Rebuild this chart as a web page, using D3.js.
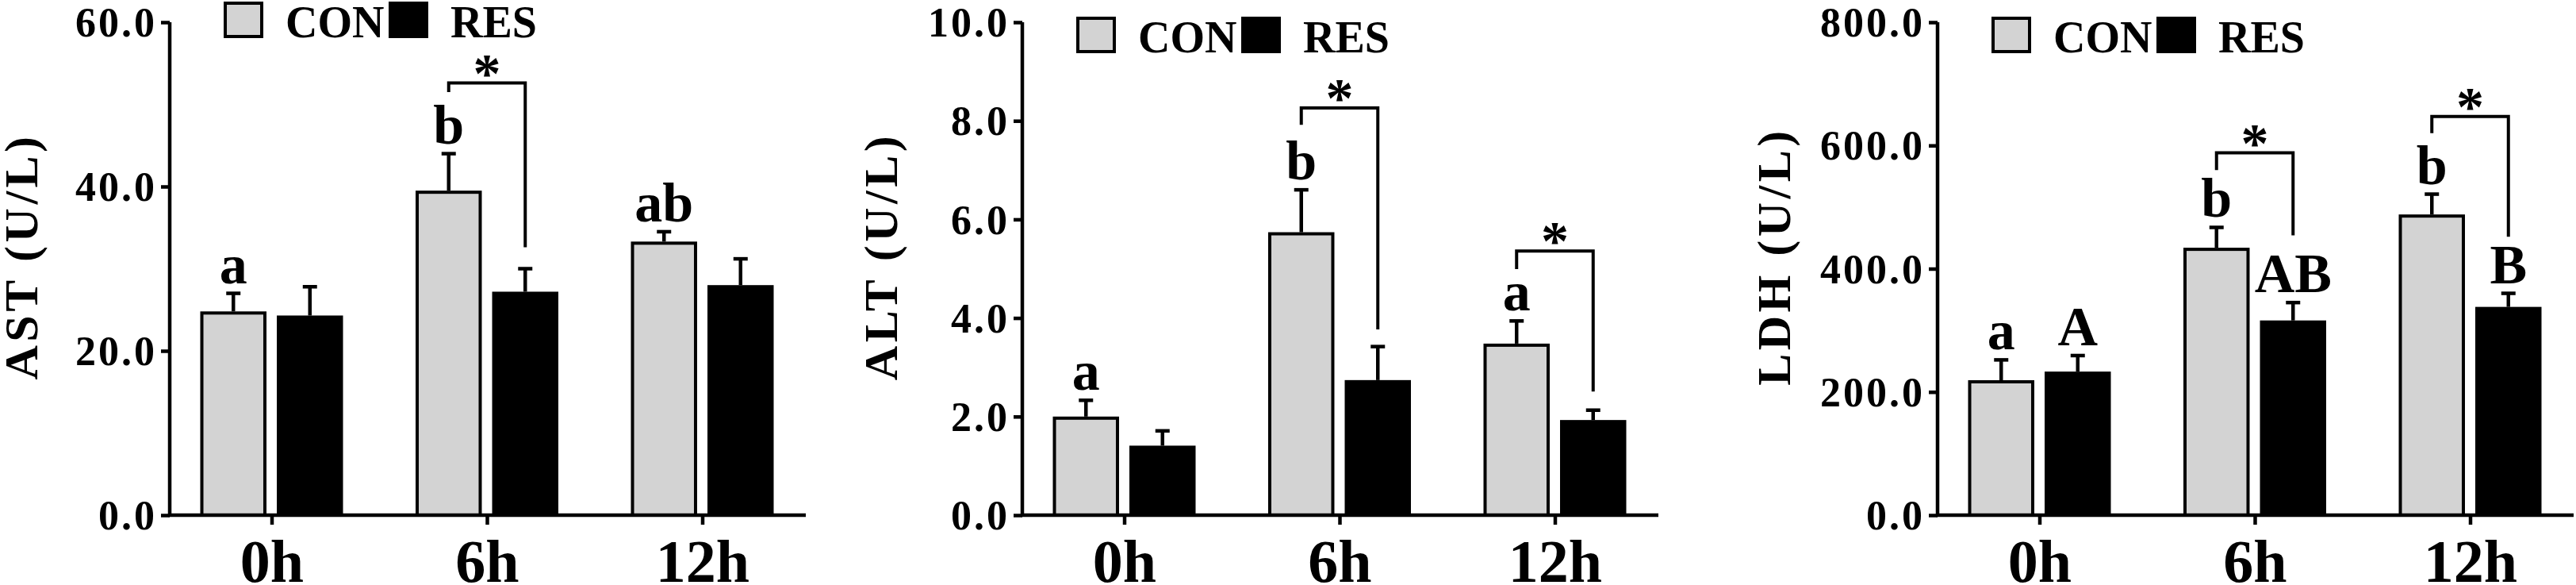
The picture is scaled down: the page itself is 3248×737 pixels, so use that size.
<!DOCTYPE html>
<html lang="en">
<head>
    <meta charset="UTF-8">
    <title>AST ALT LDH</title>
    <style>
        html, body {
            margin: 0;
            padding: 0;
            background: #fff;
        }

        svg text {
            font-family: "Liberation Serif", "Times New Roman", serif;
            font-weight: bold;
            fill: #000;
        }
    </style>
</head>

<body>
    <div id="chart"></div>

    <script src="https://d3js.org/d3.v7.min.js"></script>
    <script>
        // data
        const groups = ['0h', '6h', '12h']
        const series = ['CON', 'RES']

        const astCon = [24.8, 39.5, 33.3]
        const astConSem = [2.2, 4.5, 1.2]
        const astRes = [24.3, 27.2, 28.0]
        const astResSem = [3.5, 2.8, 3.2]
        const astConLetters = ['a', 'b', 'ab']
        const astResLetters = ['', '', '']
        const astTicks = [0, 20, 40, 60]
        const astBrackets = [
            { group: '6h', top: 52.6, left: 51.5, right: 32.6 }
        ]

        const altCon = [2.0, 5.74, 3.48]
        const altConSem = [0.33, 0.86, 0.46]
        const altRes = [1.41, 2.74, 1.93]
        const altResSem = [0.30, 0.68, 0.20]
        const altConLetters = ['a', 'b', 'a']
        const altResLetters = ['', '', '']
        const altTicks = [0, 2, 4, 6, 8, 10]
        const altBrackets = [
            { group: '6h', top: 8.26, left: 7.92, right: 3.77 },
            { group: '12h', top: 5.36, left: 4.99, right: 2.51 }
        ]

        const ldhCon = [219, 434, 488]
        const ldhConSem = [33, 33, 33]
        const ldhRes = [233, 316, 338]
        const ldhResSem = [26, 29, 22]
        const ldhConLetters = ['a', 'b', 'b']
        const ldhResLetters = ['A', 'AB', 'B']
        const ldhTicks = [0, 200, 400, 600, 800]
        const ldhBrackets = [
            { group: '6h', top: 588, left: 560, right: 454 },
            { group: '12h', top: 647, left: 620, right: 452 }
        ]

        const width = 3248
        const height = 737
        const yBottom = 649
        const yTop = 28
        const plotWidth = 802
        const serif = '"Liberation Serif", "Times New Roman", serif'
        const fill = { CON: '#d3d3d3', RES: '#000' }

        const svg = d3.select('#chart')
            .append('svg')
            .attr('width', width)
            .attr('height', height)

        const panels = [
            {
                x0: 214, title: 'AST (U/L)', titleX: -167, legendY: 2,
                con: astCon, conSem: astConSem, res: astRes, resSem: astResSem,
                conLetters: astConLetters, resLetters: astResLetters,
                ticks: astTicks, brackets: astBrackets
            },
            {
                x0: 1289, title: 'ALT (U/L)', titleX: -158, legendY: 21,
                con: altCon, conSem: altConSem, res: altRes, resSem: altResSem,
                conLetters: altConLetters, resLetters: altResLetters,
                ticks: altTicks, brackets: altBrackets
            },
            {
                x0: 2443, title: 'LDH (U/L)', titleX: -186, legendY: 21,
                con: ldhCon, conSem: ldhConSem, res: ldhRes, resSem: ldhResSem,
                conLetters: ldhConLetters, resLetters: ldhResLetters,
                ticks: ldhTicks, brackets: ldhBrackets
            }
        ]

        panels.forEach(drawPanel)

        function drawPanel(p) {
            const g = svg.append('g')
                .attr('transform', `translate(${p.x0}, 0)`)

            const yMax = d3.max(p.ticks)
            const yScale = d3.scaleLinear()
                .domain([0, yMax])
                .range([yBottom, yTop])

            const xScale = d3.scalePoint()
                .domain(groups)
                .range([128.5, 671.5])

            const inner = d3.scaleBand()
                .domain(series)
                .range([-90, 90])
                .paddingInner(0.135)

            const rows = []
            groups.forEach((grp, i) => {
                rows.push({ group: grp, key: 'CON', value: p.con[i], sem: p.conSem[i], letter: p.conLetters[i] })
                rows.push({ group: grp, key: 'RES', value: p.res[i], sem: p.resSem[i], letter: p.resLetters[i] })
            })
            const cx = d => xScale(d.group) + inner(d.key) + inner.bandwidth() / 2

            // error bars (drawn first so bars cover the base)
            const err = g.append('g')
                .attr('stroke', '#000')
                .attr('stroke-width', 4.5)
            err.selectAll('line.stem')
                .data(rows)
                .join('line')
                .attr('class', 'stem')
                .attr('x1', cx)
                .attr('x2', cx)
                .attr('y1', d => yScale(d.value))
                .attr('y2', d => yScale(d.value + d.sem))
            err.selectAll('line.cap')
                .data(rows)
                .join('line')
                .attr('class', 'cap')
                .attr('x1', d => cx(d) - 9)
                .attr('x2', d => cx(d) + 9)
                .attr('y1', d => yScale(d.value + d.sem))
                .attr('y2', d => yScale(d.value + d.sem))

            // bars
            g.append('g')
                .selectAll('rect')
                .data(rows)
                .join('rect')
                .attr('x', d => xScale(d.group) + inner(d.key) + 2)
                .attr('width', inner.bandwidth() - 4)
                .attr('y', d => yScale(d.value) + 2)
                .attr('height', d => yScale(0) - yScale(d.value) - 2)
                .attr('fill', d => fill[d.key])
                .attr('stroke', '#000')
                .attr('stroke-width', 4)

            // group letters
            g.append('g')
                .selectAll('text')
                .data(rows.filter(d => d.letter))
                .join('text')
                .attr('x', cx)
                .attr('y', d => yScale(d.value + d.sem) - 13)
                .attr('text-anchor', 'middle')
                .attr('font-size', 70)
                .text(d => d.letter)

            // significance brackets
            const br = g.append('g')
            p.brackets.forEach(b => {
                const xl = xScale(b.group) + inner('CON') + inner.bandwidth() / 2
                const xr = xScale(b.group) + inner('RES') + inner.bandwidth() / 2
                br.append('path')
                    .attr('d', `M${xl},${yScale(b.left)}V${yScale(b.top)}H${xr}V${yScale(b.right)}`)
                    .attr('fill', 'none')
                    .attr('stroke', '#000')
                    .attr('stroke-width', 4)
                br.append('text')
                    .attr('x', (xl + xr) / 2)
                    .attr('y', yScale(b.top) + 11)
                    .attr('text-anchor', 'middle')
                    .attr('font-size', 70)
                    .text('*')
            })

            // y axis
            const yAxis = d3.axisLeft(yScale)
                .tickValues(p.ticks)
                .tickFormat(d3.format('.1f'))
                .tickSize(11)
                .tickSizeOuter(0)
                .tickPadding(5)
            const ya = g.append('g')
                .call(yAxis)
                .attr('font-family', serif)
            ya.select('.domain')
                .attr('stroke-width', 4.5)
                .attr('d', `M0,${yBottom + 2}V${yTop}`)
            ya.selectAll('.tick line').attr('stroke-width', 4.5)
            ya.selectAll('.tick text')
                .attr('font-size', 52)
                .attr('letter-spacing', 3)
                .attr('dy', '0.34em')

            // x axis
            const xAxis = d3.axisBottom(xScale)
                .tickSize(12)
                .tickSizeOuter(0)
                .tickPadding(0)
            const xa = g.append('g')
                .attr('transform', `translate(0, ${yBottom})`)
                .call(xAxis)
                .attr('font-family', serif)
            xa.select('.domain')
                .attr('stroke-width', 4.5)
                .attr('d', `M-2,0H${plotWidth}`)
            xa.selectAll('.tick line').attr('stroke-width', 4.5)
            xa.selectAll('.tick text')
                .attr('font-size', 76)
                .attr('y', height - yBottom - 4)
                .attr('dy', null)

            // y title
            g.append('text')
                .attr('transform', `translate(${p.titleX}, 323) rotate(-90)`)
                .attr('text-anchor', 'middle')
                .attr('font-size', 60)
                .attr('letter-spacing', 4.5)
                .text(p.title)

            // legend
            const lg = g.append('g')
                .attr('transform', `translate(68, ${p.legendY})`)
            const legendX = { CON: [0, 78], RES: [208, 286] }
            series.forEach(s => {
                lg.append('rect')
                    .attr('x', legendX[s][0] + 2)
                    .attr('y', 2)
                    .attr('width', 46)
                    .attr('height', 42)
                    .attr('fill', fill[s])
                    .attr('stroke', '#000')
                    .attr('stroke-width', 4)
                lg.append('text')
                    .attr('x', legendX[s][1])
                    .attr('y', 45)
                    .attr('font-size', 56)
                    .text(s)
            })
        }
    </script>
</body>
</html>
